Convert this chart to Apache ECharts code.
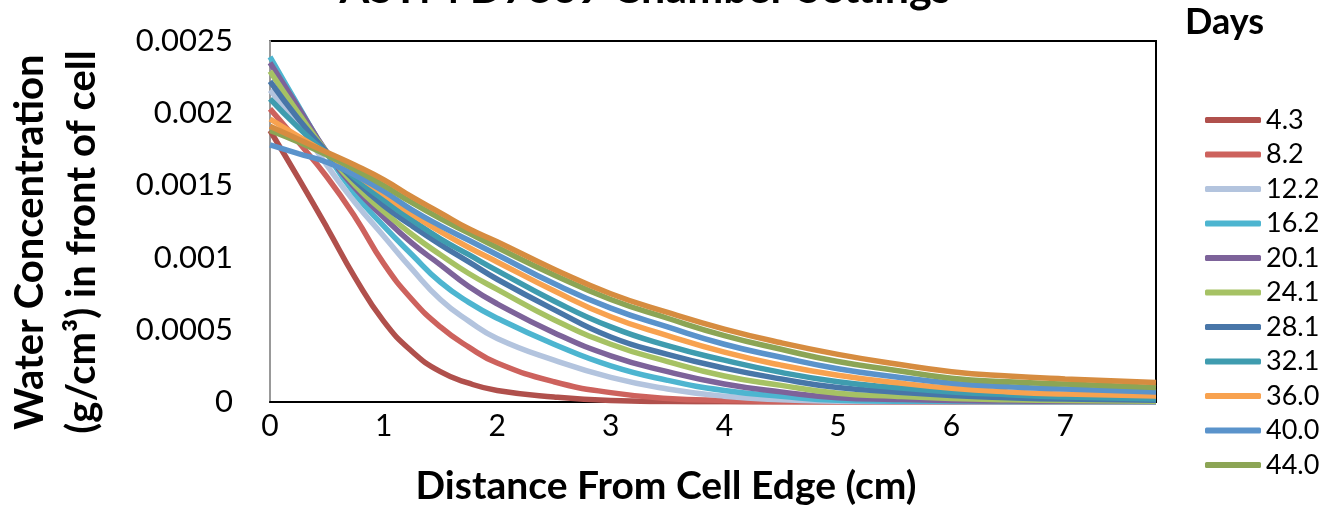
<!DOCTYPE html>
<html>
<head>
<meta charset="utf-8">
<script src="https://cdn.jsdelivr.net/npm/echarts@6/dist/echarts.min.js"></script>
<style>
html, body { margin: 0; padding: 0; background: #fff; }
#water_chart { width: 1321px; height: 505px; }
</style>
</head>
<body>
<div id="water_chart"></div>
<script>
// distance from cell edge (cm)
var distance = [0, 0.25, 0.5, 0.75, 1, 1.25, 1.5, 1.75, 2, 2.5, 3, 3.5, 4, 4.5, 5, 5.5, 6, 6.5, 7, 7.8];

// water concentration (g/cm3), one array per exposure time in days
var days_4_3 = [0.00188, 0.00155, 0.00121, 0.00086, 0.00056, 0.00035, 0.00021, 0.00013, 0.00008, 0.000035, 0.00001, 0.000003, 0.000001, 0, 0, 0, 0, 0, 0, 0];
var days_8_2 = [0.00203, 0.0018, 0.00156, 0.00128, 0.00096, 0.00071, 0.00052, 0.00038, 0.00027, 0.00014, 0.000065, 0.000025, 0.00001, 0.000003, 0.000001, 0, 0, 0, 0, 0];
var days_12_2 = [0.00216, 0.00192, 0.00164, 0.00138, 0.00115, 0.00092, 0.00071, 0.00056, 0.00044, 0.00029, 0.00017, 0.00009, 0.00004, 0.000015, 0.000005, 0.000002, 0.000001, 0, 0, 0];
var days_16_2 = [0.00239, 0.00205, 0.00172, 0.00144, 0.00122, 0.00102, 0.00083, 0.00069, 0.00058, 0.0004, 0.00025, 0.00015, 0.00008, 0.00004, 0.000012, 0.000006, 0.000004, 0.000002, 0.000001, 0.000001];
var days_20_1 = [0.00235, 0.00204, 0.00173, 0.00148, 0.00128, 0.0011, 0.00095, 0.0008, 0.00068, 0.00048, 0.00032, 0.00021, 0.000125, 0.00007, 0.00003, 0.000018, 0.00001, 0.000007, 0.000005, 0.000004];
var days_24_1 = [0.00229, 0.002, 0.00173, 0.0015, 0.00132, 0.00116, 0.00102, 0.00089, 0.00078, 0.00057, 0.0004, 0.00028, 0.00018, 0.000115, 0.00006, 0.00004, 0.000025, 0.000016, 0.00001, 0.000006];
var days_28_1 = [0.00222, 0.00196, 0.00173, 0.00153, 0.00136, 0.00122, 0.00109, 0.00097, 0.00085, 0.00064, 0.00045, 0.00033, 0.000235, 0.00016, 0.0001, 0.00007, 0.000045, 0.00003, 0.00002, 0.000012];
var days_32_1 = [0.0021, 0.0019, 0.00172, 0.00155, 0.0014, 0.00126, 0.00113, 0.00102, 0.00091, 0.0007, 0.00052, 0.00039, 0.00029, 0.000205, 0.00014, 0.0001, 0.00007, 0.00005, 0.000035, 0.00002];
var days_36_0 = [0.00196, 0.00184, 0.00172, 0.00158, 0.00144, 0.0013, 0.00118, 0.00107, 0.00097, 0.00077, 0.00059, 0.00046, 0.000345, 0.000255, 0.000185, 0.000135, 0.000095, 0.00007, 0.000055, 0.000042];
var days_40_0 = [0.00178, 0.00172, 0.00166, 0.00157, 0.00146, 0.00133, 0.00122, 0.00112, 0.00102, 0.00082, 0.00065, 0.00052, 0.0004, 0.00031, 0.00023, 0.000175, 0.00013, 0.000105, 0.00009, 0.00007];
var days_44_0 = [0.00188, 0.0018, 0.00171, 0.00161, 0.0015, 0.00138, 0.00127, 0.00117, 0.00107, 0.00088, 0.00071, 0.00058, 0.00046, 0.000365, 0.00028, 0.00022, 0.000165, 0.00014, 0.000125, 0.0001];
var days_48_0 = [0.00191, 0.00182, 0.00173, 0.00164, 0.00154, 0.00142, 0.00131, 0.0012, 0.00111, 0.00092, 0.00075, 0.00062, 0.000505, 0.00041, 0.00033, 0.000265, 0.00021, 0.00018, 0.00016, 0.000135];

var day_names = ['4.3', '8.2', '12.2', '16.2', '20.1', '24.1', '28.1', '32.1', '36.0', '40.0', '44.0', '48.0'];
var day_values = [days_4_3, days_8_2, days_12_2, days_16_2, days_20_1, days_24_1, days_28_1, days_32_1, days_36_0, days_40_0, days_44_0, days_48_0];
var day_colors = ['#B0504C', '#CD625D', '#B3C4DE', '#4DB5D0', '#7D639A', '#A6C264', '#4876A8', '#3F9CAF', '#F8A24F', '#5A93CB', '#8CA555', '#D68C40'];

// legend only shows the first 11 (the last entry is cut off in the original)
var legend_names = day_names.slice(0, 11);

var y_ticks = [0, 0.0005, 0.001, 0.0015, 0.002, 0.0025];

var font = 'Lato, "Open Sans", sans-serif';

var water_chart = {};

water_chart.init = function() {
	var chart = echarts.init(document.getElementById('water_chart'));
	water_chart.chart = chart;

	var series = [];
	for (var i = 0; i < day_names.length; i++) {
		var pts = [];
		for (var j = 0; j < distance.length; j++) {
			pts.push([distance[j], day_values[i][j]]);
		}
		series.push({
			name : day_names[i],
			type : 'line',
			smooth : true,
			symbol : 'none',
			color : day_colors[i],
			lineStyle : { width : 5.5, color : day_colors[i] },
			data : pts
		});
	}

	var option = {
		animation : false,
		textStyle : { fontFamily : font },
		grid : {
			left : 270,
			right : 165,
			top : 41,
			bottom : 103,
			show : true,
			borderColor : '#000',
			borderWidth : 2
		},
		legend : {
			data : legend_names,
			orient : 'vertical',
			left : 1200,
			top : 101,
			icon : 'roundRect',
			itemWidth : 56,
			itemHeight : 6,
			itemGap : 6.5,
			textStyle : { fontSize : 27, lineHeight : 28, color : '#000', fontFamily : font }
		},
		graphic : [ {
			type : 'text',
			x : 645,
			y : -32,
			style : { text : 'ASTM D7869 Chamber Settings', font : 'bold 43px ' + font, fill : '#000', align : 'center', verticalAlign : 'top' }
		}, {
			type : 'text',
			left : 1185,
			top : 4,
			style : { text : 'Days', font : 'bold 36px ' + font, fill : '#000' }
		}, {
			type : 'text',
			x : 666,
			y : 486,
			style : { text : 'Distance From Cell Edge (cm)', font : 'bold 39px ' + font, fill : '#000', align : 'center', verticalAlign : 'middle' }
		}, {
			type : 'text',
			x : 56,
			y : 242,
			rotation : Math.PI / 2,
			style : { text : 'Water Concentration\n(g/cm\u00B3) in front of cell', font : 'bold 40px ' + font, lineHeight : 52, fill : '#000', align : 'center', verticalAlign : 'middle' }
		} ],
		xAxis : {
			type : 'value',
			min : 0,
			max : 7.8,
			interval : 1,
			axisLine : { show : true, lineStyle : { color : '#000', width : 2 } },
			axisTick : { show : false },
			splitLine : { show : false },
			axisLabel : { showMaxLabel : false, fontSize : 30, color : '#000', margin : 9, fontFamily : font }
		},
		yAxis : {
			type : 'value',
			min : y_ticks[0],
			max : y_ticks[y_ticks.length - 1],
			interval : 0.0005,
			axisLine : { show : true, lineStyle : { color : '#999', width : 2 } },
			axisTick : { show : false },
			splitLine : { show : false },
			axisLabel : { fontSize : 31, color : '#000', margin : 37, fontFamily : font }
		},
		series : series
	};
	chart.setOption(option);
};

water_chart.init();
</script>
</body>
</html>
